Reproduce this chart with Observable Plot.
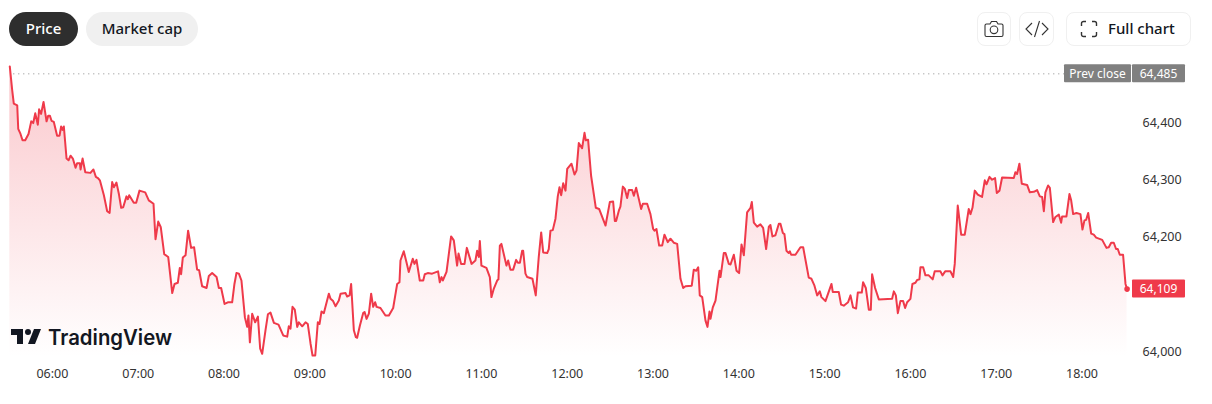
<!DOCTYPE html>
<html>
<head>
<meta charset="utf-8">
<script src="https://cdn.jsdelivr.net/npm/d3@7"></script>
<script src="https://cdn.jsdelivr.net/npm/@observablehq/plot@0.6"></script>
<style>
html,body{margin:0;padding:0;background:#fff;overflow:hidden}
#wrap{position:relative;width:1212px;height:404px;overflow:hidden;font-family:"Noto Sans",sans-serif}
#wrap svg{display:block}
.pill{position:absolute;top:12px;height:34px;line-height:33px;border-radius:17px;text-align:center;font-size:15px;font-weight:500;box-sizing:border-box}
.btn{position:absolute;top:12px;height:34px;border:1px solid #f0f0f0;border-radius:8px;box-sizing:border-box;background:#fff;color:#131722}
.btn svg{position:absolute}
#logo{position:absolute;left:0;top:320px;width:190px;height:36px}
</style>
</head>
<body>
<div id="wrap">
  <div id="chart"></div>
  <div class="pill" style="left:9px;width:69px;background:#2e2e2e;color:#fff">Price</div>
  <div class="pill" style="left:86px;width:112px;background:#f0f0f0;color:#131722">Market cap</div>
  <div class="btn" style="left:977px;width:34px">
    <svg style="left:5px;top:5px" width="22" height="22" viewBox="0 0 22 22" fill="none" stroke="#333" stroke-width="1.1"><path d="M2 7.5a1.5 1.5 0 0 1 1.5-1.5H7l1.5-2.5h5L15 6h3.5A1.500 1.500 0 0 1 20 7.500V17a1.500 1.500 0 0 1-1.500 1.500h-15A1.500 1.500 0 0 1 2 17Z"/><circle cx="11" cy="11.800" r="3.800"/></svg>
  </div>
  <div class="btn" style="left:1019px;width:35px">
    <svg style="left:5px;top:6px" width="24" height="20" viewBox="0 0 24 20" fill="none" stroke="#333" stroke-width="1.1"><path d="M7 4 1 10l6 6M17 4l6 6-6 6M14.500 2l-5 16"/></svg>
  </div>
  <div class="btn" style="left:1066px;width:125px">
    <svg style="left:13px;top:7px" width="18" height="18" viewBox="0 0 18 18" fill="none" stroke="#333" stroke-width="1.400"><path d="M1.500 6V3.500a2 2 0 0 1 2-2H6M12 1.500h2.500a2 2 0 0 1 2 2V6M16.500 12v2.500a2 2 0 0 1-2 2H12M6 16.500H3.500a2 2 0 0 1-2-2V12"/></svg>
    <span style="position:absolute;left:41px;top:0;line-height:31px;font-size:15px;font-weight:500;white-space:nowrap">Full chart</span>
  </div>
  <svg id="logo" viewBox="0 0 190 36">
    <path transform="translate(9,3)" fill="#131722" d="M14 6H2v6h6v9h6V6Zm12 15h-7l6-15h7l-6 15Zm-7-9a3 3 0 1 0 0-6 3 3 0 0 0 0 6Z"/>
    <text x="48" y="25" font-family="Inter" font-size="21" font-weight="600" fill="#131722" textLength="124" lengthAdjust="spacingAndGlyphs">TradingView</text>
  </svg>
</div>
<script>
const minutes = [0.2,1.9,3.0,5.4,6.1,7.7,9.1,11.0,13.3,15.2,16.6,18.0,19.8,20.7,22.1,23.8,25.9,27.1,28.2,29.4,31.0,33.3,35.0,36.1,37.1,38.0,39.9,41.3,42.7,44.3,46.2,47.3,49.2,49.7,51.1,53.0,56.6,58.7,60.4,61.8,63.2,66.0,68.3,70.0,71.8,73.0,74.8,76.5,78.1,79.5,81.8,82.8,83.7,86.9,88.6,90.9,94.9,97.4,100.7,102.1,104.0,105.8,108.2,111.0,113.8,115.4,117.7,119.1,120.0,121.2,123.1,124.9,127.0,129.1,131.2,132.6,134.7,137.8,139.4,141.7,144.8,146.4,148.0,150.4,152.7,155.7,157.3,158.7,160.4,162.2,164.6,166.2,167.1,168.1,169.7,171.8,173.7,175.3,176.7,179.0,180.7,182.5,184.9,188.1,191.4,194.2,195.3,196.5,197.9,199.5,201.2,202.3,204.7,207.0,208.6,210.5,211.9,213.8,215.6,216.8,218.2,219.8,223.3,224.5,226.3,228.0,230.3,231.5,235.0,236.1,237.8,238.9,240.8,242.2,243.1,245.0,247.3,248.3,249.7,251.3,252.9,254.3,255.7,256.7,259.4,262.9,265.3,268.3,271.1,272.7,273.4,
275.7,277.6,279.2,282.0,283.2,284.6,286.9,289.3,290.4,292.5,295.5,299.7,300.9,302.1,303.0,305.6,308.8,310.7,313.0,314.0,315.8,318.2,319.8,323.1,325.8,327.0,328.2,328.9,330.0,333.5,335.9,337.0,338.7,341.0,341.9,342.9,344.0,347.5,348.7,350.3,352.2,354.3,355.5,356.9,358.5,359.2,360.8,362.0,365.7,368.0,370.1,371.8,373.2,376.0,377.1,378.3,379.9,381.8,383.4,384.6,385.8,387.2,388.8,390.0,393.0,395.1,396.5,398.1,400.4,402.1,403.0,404.6,406.7,410.0,412.3,416.8,419.8,422.1,423.3,424.2,426.1,427.2,428.9,430.3,431.9,433.1,435.4,436.6,438.2,440.3,441.7,442.9,445.9,448.2,450.1,451.0,452.4,454.3,456.4,458.0,460.3,462.2,464.5,466.9,469.2,471.1,472.7,477.1,478.5,480.2,481.6,482.7,484.4,486.7,488.1,489.5,490.2,491.8,493.7,496.5,497.2,499.5,500.7,503.0,504.2,506.5,508.4,510.2,511.9,513.5,515.8,518.2,519.1,520.5,522.8,525.1,527.0,529.1,531.0,532.1,533.5,535.6,538.0,539.1,540.8,541.9,543.3,544.9,545.7,546.6,549.6,553.1,
555.0,558.9,560.8,562.9,564.8,566.6,567.8,570.6,574.8,575.7,579.9,581.5,583.4,586.4,588.1,589.9,592.0,593.2,596.0,596.9,598.8,600.9,602.3,603.2,605.3,607.9,617.2,618.4,619.8,621.2,623.0,624.9,626.3,627.7,630.0,631.4,633.5,634.7,636.3,637.0,638.9,640.5,642.8,645.6,647.0,651.0,652.4,654.3,658.0,659.9,661.0,663.1,665.5,668.0,670.8,672.0,673.4,675.0,677.1,680.1,682.0,683.2,685.3,687.1,689.2,690.4,692.3,694.1,702.3,703.4,704.6,706.2,707.9,711.6,713.5,716.3,718.6,720.5,722.1,723.3,724.4,726.3,727.5,729.8,731.4,733.8,735.4,736.1,739.1,741.2,742.4,743.8,746.1,748.9,750.3,751.7,752.9,754.3,756.4,758.2,759.9,764.1,767.1,768.7,770.4,772.2,773.8,775.0,776.4,778.7,780.4,781.5];

const prices = [64498,64456,64433,64430,64389,64380,64369,64369,64380,64402,64399,64416,64396,64423,64415,64436,64402,64412,64412,64403,64401,64377,64377,64393,64387,64393,64337,64334,64342,64337,64321,64329,64329,64318,64337,64313,64312,64318,64305,64303,64299,64273,64245,64242,64296,64287,64295,64275,64251,64252,64271,64266,64273,64260,64260,64281,64278,64264,64258,64196,64227,64217,64170,64165,64102,64118,64120,64146,64135,64164,64168,64211,64181,64182,64143,64142,64114,64111,64132,64137,64130,64111,64111,64083,64086,64086,64118,64137,64136,64124,64060,64043,64063,64016,64066,64051,64061,64005,63996,64037,64065,64068,64050,64047,64028,64026,64044,64040,64078,64073,64043,64051,64044,64051,64048,64014,63993,63993,64051,64048,64070,64067,64101,64092,64088,64079,64089,64101,64102,64096,64098,64118,64037,64025,64024,64045,64067,64069,64057,64066,64101,64078,64086,64078,64076,64063,64063,64076,64118,64121,64159,
64175,64156,64139,64162,64153,64160,64124,64124,64135,64137,64136,64140,64121,64130,64124,64139,64201,64194,64150,64171,64153,64153,64181,64153,64159,64176,64165,64193,64150,64146,64130,64095,64110,64124,64126,64185,64188,64150,64159,64143,64143,64160,64155,64155,64176,64176,64136,64130,64127,64098,64165,64208,64173,64172,64179,64211,64212,64232,64271,64287,64273,64294,64281,64319,64328,64309,64316,64364,64355,64382,64369,64370,64307,64251,64249,64220,64261,64262,64228,64228,64246,64253,64288,64284,64268,64282,64282,64272,64286,64264,64249,64258,64258,64240,64214,64211,64214,64185,64185,64204,64191,64197,64190,64188,64127,64111,64114,64115,64143,64141,64147,64098,64095,64054,64043,64070,64057,64077,64089,64141,64130,64172,64172,64153,64152,64169,64141,64137,64187,64168,64243,64251,64261,64225,64218,64222,64216,64179,64218,64221,64201,64203,64223,64223,64207,64205,64176,64172,64175,64169,64169,64182,
64182,64129,64127,64115,64098,64105,64095,64088,64118,64104,64104,64082,64080,64086,64098,64077,64075,64103,64103,64121,64111,64073,64073,64135,64111,64091,64092,64105,64098,64067,64088,64088,64076,64086,64092,64118,64120,64125,64126,64147,64147,64133,64133,64126,64140,64140,64133,64140,64140,64130,64153,64255,64204,64204,64249,64240,64251,64281,64274,64270,64299,64292,64305,64300,64303,64277,64281,64304,64303,64313,64310,64328,64293,64291,64278,64279,64282,64271,64270,64245,64278,64290,64286,64226,64235,64239,64225,64236,64236,64275,64264,64240,64242,64240,64213,64229,64230,64242,64206,64204,64199,64195,64181,64182,64190,64190,64179,64179,64169,64169,64118,64109];

const tickMinutes = [30,90,150,210,270,330,390,450,510,570,630,690,750];
const tickLabels = ["06:00","07:00","08:00","09:00","10:00","11:00","12:00","13:00","14:00","15:00","16:00","17:00","18:00"];
const priceTicks = [64000,64200,64300,64400];
const prevClose = 64485;
const lastPrice = 64109;
const lastMinute = 781.5;
const areaFloor = 63990;

const rows = minutes.map((m, i) => ({m, p: prices[i]}));
const RED = "#ef3a4a";

const gradient = () => {
  const defs = d3.create("svg:defs");
  const g = defs.append("linearGradient").attr("id", "fade").attr("x1", 0).attr("x2", 0).attr("y1", 0).attr("y2", 1);
  g.append("stop").attr("offset", "0%").attr("stop-color", RED).attr("stop-opacity", 0.28);
  g.append("stop").attr("offset", "100%").attr("stop-color", RED).attr("stop-opacity", 0);
  return defs.node();
};

const chart = Plot.plot({
  width: 1212,
  height: 404,
  marginLeft: 0, marginRight: 0, marginTop: 0, marginBottom: 0,
  style: {background: "transparent", fontFamily: "'Noto Sans',sans-serif"},
  x: {domain: [0, 781.8], range: [9, 1127]},
  y: {domain: [64000, 64400], range: [351, 122], axis: null},
  marks: [
    gradient,
    Plot.areaY(rows, {x: "m", y1: areaFloor, y2: "p", fill: "url(#fade)"}),
    Plot.ruleY([prevClose], {x1: 3, x2: 738, stroke: "#8a8a8a", strokeWidth: 1, strokeDasharray: "1,4"}),
    Plot.line(rows, {x: "m", y: "p", stroke: RED, strokeWidth: 2}),
    Plot.dot([{m: lastMinute, p: lastPrice}], {x: "m", y: "p", r: 2.8, fill: RED}),
    Plot.axisX({ticks: tickMinutes, tickFormat: d => tickLabels[tickMinutes.indexOf(d)], anchor: "bottom", frameAnchor: "bottom", tickSize: 0, dy: -44.5, fontSize: 12.5, color: "#333", label: null}),
    Plot.text(priceTicks, {x: 781.8, y: d => d, text: d3.format(","), textAnchor: "start", dx: 15, fontSize: 12.5, fill: "#333"})
  ]
});

const yS = chart.scale("y").apply;
const svg = d3.select(chart);
function tag(x, w, value, label, fill) {
  const cy = yS(value);
  svg.append("rect").attr("x", x).attr("y", cy - 9).attr("width", w).attr("height", 18).attr("rx", 1).attr("fill", fill);
  svg.append("text").attr("x", x + w / 2).attr("y", cy).attr("dy", "0.36em").attr("text-anchor", "middle")
    .attr("font-size", 12).attr("fill", "#fff").attr("font-family", "'Noto Sans',sans-serif").text(label);
}
tag(1064, 67, prevClose, "Prev close", "#808080");
tag(1132, 53, prevClose, d3.format(",")(prevClose), "#808080");
tag(1132, 53, lastPrice, d3.format(",")(lastPrice), RED);

document.getElementById("chart").appendChild(chart);
</script>
</body>
</html>
